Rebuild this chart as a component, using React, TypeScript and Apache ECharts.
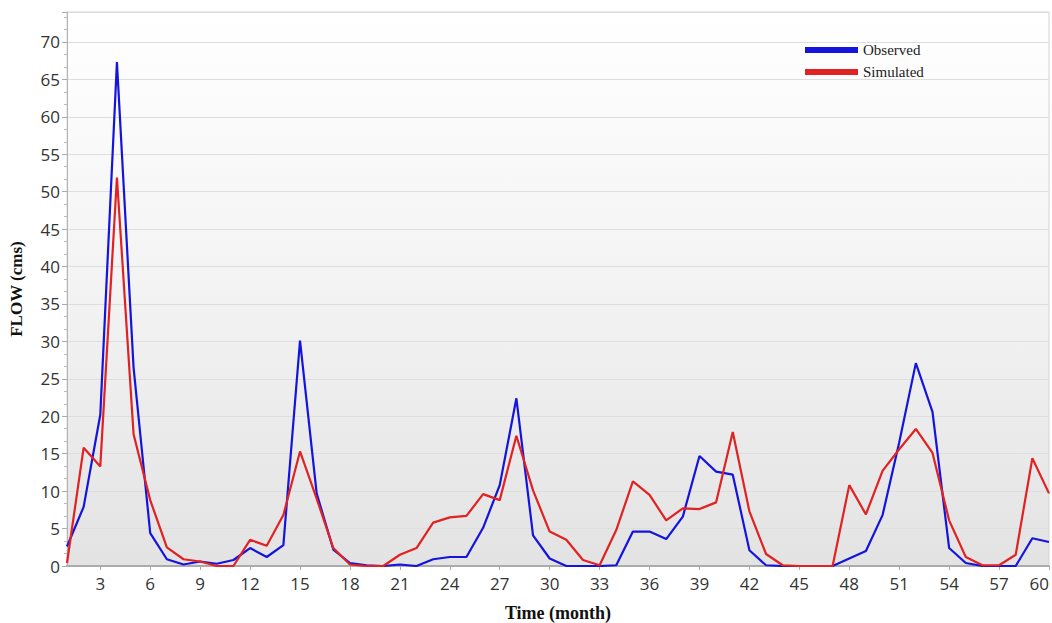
import React, { useEffect, useRef } from "react";
import * as echarts from "echarts";

const months: string[] = Array.from({ length: 60 }, (_, i) => String(i + 1));

const observed: number[] = [
  2.6, 7.9, 20.2, 67.3, 26.5, 4.4, 0.9, 0.2, 0.6, 0.3,
  0.8, 2.4, 1.2, 2.8, 30.1, 9.7, 2.2, 0.4, 0.1, 0,
  0.2, 0, 0.9, 1.2, 1.2, 5.1, 10.8, 22.4, 4.1, 1.0,
  0, 0, 0, 0.1, 4.6, 4.6, 3.6, 6.6, 14.7, 12.6,
  12.2, 2.1, 0.1, 0, 0, 0, 0, 1.0, 2.0, 6.8,
  16.5, 27.1, 20.6, 2.4, 0.4, 0, 0, 0, 3.7, 3.2,
];

const simulated: number[] = [
  0.4, 15.8, 13.3, 51.9, 17.6, 8.8, 2.5, 0.9, 0.6, 0,
  0, 3.5, 2.7, 6.8, 15.3, 9.0, 2.4, 0.2, 0, 0,
  1.5, 2.4, 5.8, 6.5, 6.7, 9.6, 8.8, 17.4, 10.1, 4.6,
  3.5, 0.8, 0.1, 4.8, 11.3, 9.5, 6.1, 7.7, 7.6, 8.5,
  17.9, 7.3, 1.6, 0.1, 0, 0, 0, 10.8, 6.9, 12.7,
  15.6, 18.3, 15.1, 6.1, 1.2, 0.1, 0.1, 1.5, 14.4, 9.7,
];

const seriesNames: string[] = ["Observed", "Simulated"];

export default function App() {
  const ref = useRef<HTMLDivElement>(null);

  useEffect(() => {
    if (!ref.current) return;
    const chart = echarts.init(ref.current, undefined, { renderer: "svg" });
    const showEvery3 = (index: number) => (index + 1) % 3 === 0;
    chart.setOption({
      animation: false,
      backgroundColor: "#ffffff",
      grid: {
        left: 67,
        right: 3,
        top: 12,
        bottom: 57,
        containLabel: false,
        outerBoundsMode: "none",
        show: true,
        borderColor: "#d4d4d4",
        borderWidth: 1,
        backgroundColor: {
          type: "linear",
          x: 0,
          y: 0,
          x2: 0,
          y2: 1,
          colorStops: [
            { offset: 0, color: "#ffffff" },
            { offset: 0.5, color: "#f3f3f3" },
            { offset: 1, color: "#e3e3e3" },
          ],
        },
      },
      legend: {
        orient: "vertical",
        left: 805,
        top: 42,
        padding: 0,
        itemWidth: 53,
        itemHeight: 6,
        itemGap: 6,
        textStyle: {
          fontFamily: "Liberation Serif",
          fontSize: 15,
          color: "#222",
          lineHeight: 16,
        },
        data: seriesNames.map((n) => ({ name: n, icon: "rect" })),
      },
      xAxis: {
        type: "category",
        data: months,
        boundaryGap: false,
        name: "Time (month)",
        nameLocation: "middle",
        nameGap: 38,
        nameTextStyle: {
          fontFamily: "Liberation Serif",
          fontWeight: "bold",
          fontSize: 18,
          color: "#111",
        },
        axisLine: { show: true, lineStyle: { color: "#ababab", width: 2 } },
        axisTick: {
          show: true,
          interval: showEvery3,
          length: 4,
          lineStyle: { color: "#aaaaaa" },
        },
        axisLabel: {
          interval: showEvery3,
          alignMaxLabel: "right",
          fontFamily: "Open Sans",
          fontSize: 17,
          color: "#333",
          margin: 9,
        },
        splitLine: { show: false },
      },
      yAxis: {
        type: "value",
        min: 0,
        max: 74,
        interval: 5,
        name: "FLOW (cms)",
        nameLocation: "middle",
        nameGap: 42,
        nameTextStyle: {
          fontFamily: "Liberation Serif",
          fontWeight: "bold",
          fontSize: 17,
          color: "#111",
        },
        axisLine: { show: true, lineStyle: { color: "#b5b5b5" } },
        axisTick: { show: true, length: 5, lineStyle: { color: "#aaaaaa" } },
        minorTick: {
          show: true,
          splitNumber: 3,
          length: 3,
          lineStyle: { color: "#bbbbbb" },
        },
        axisLabel: {
          showMaxLabel: false,
          fontFamily: "Open Sans",
          fontSize: 17,
          color: "#333",
          margin: 7,
        },
        splitLine: { show: true, lineStyle: { color: "#dedede" } },
      },
      series: [
        {
          name: seriesNames[0],
          type: "line",
          data: observed,
          showSymbol: false,
          symbol: "none",
          lineStyle: { color: "#1414dc", width: 2.2 },
          itemStyle: { color: "#1414dc" },
          z: 3,
        },
        {
          name: seriesNames[1],
          type: "line",
          data: simulated,
          showSymbol: false,
          symbol: "none",
          lineStyle: { color: "#e02222", width: 2.2 },
          itemStyle: { color: "#e02222" },
          z: 4,
        },
      ],
    });
    return () => chart.dispose();
  }, []);

  return (
    <div
      ref={ref}
      style={{ position: "fixed", left: 0, top: 0, width: 1052, height: 623 }}
    />
  );
}
